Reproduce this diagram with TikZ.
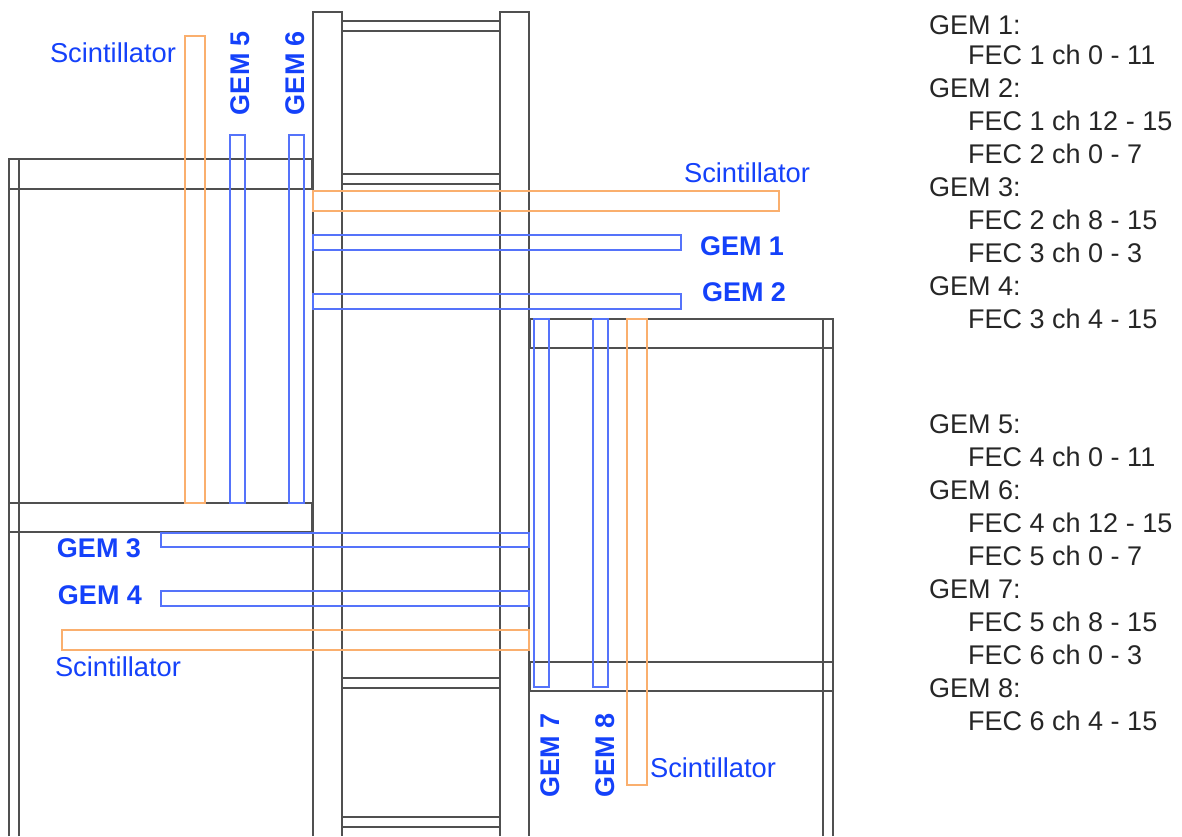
\documentclass[tikz,border=0pt]{standalone}
\usepackage{fontspec}
\setmainfont{Liberation Sans}
\definecolor{gemblue}{RGB}{85, 115, 250}
\definecolor{gemtext}{RGB}{20, 65, 250}
\definecolor{scintorange}{RGB}{250, 175, 110}
\definecolor{framegray}{RGB}{80, 80, 80}
\tikzset{
	frame/.style={draw=framegray, line width=1.2pt},
	gemdet/.style={draw=gemblue, line width=1.1pt},
	scintdet/.style={draw=scintorange, line width=1.2pt},
	gemlabel/.style={text=gemtext, font=\fontsize{27}{30}\selectfont\bfseries, inner sep=0pt},
	scintlabel/.style={text=gemtext, font=\fontsize{27.3}{30}\selectfont, inner sep=0pt},
	chlabel/.style={anchor=base west, text=black!85, font=\fontsize{27}{30}\selectfont, inner sep=0pt}
}

\begin{document}
\begin{tikzpicture}[x=1pt, y=-1pt]
		\useasboundingbox (0, 0) rectangle (1182, 836);
		
		% Linkes Gestell
		\draw[frame] (9, 836) -- (9, 159) (19, 836) -- (19, 159);
		\draw[frame] (9, 159) rectangle (312, 189);
		\draw[frame] (9, 503) rectangle (312, 532);
		
		% Mittleres Gestell
		\draw[frame] (313, 836) -- (313, 12) -- (342, 12) -- (342, 836);
		\draw[frame] (500, 836) -- (500, 12) -- (529, 12) -- (529, 836);
		\draw[frame] (342, 21) rectangle (500, 31);
		\draw[frame] (342, 174) rectangle (500, 184);
		\draw[frame] (342, 678) rectangle (500, 688);
		\draw[frame] (342, 817) rectangle (500, 827);
		
		% Rechtes Gestell
		\draw[frame] (823, 836) -- (823, 319) (833, 836) -- (833, 319);
		\draw[frame] (530, 319) rectangle (833, 348);
		\draw[frame] (530, 662) rectangle (833, 691);
		
		% GEMs
		\draw[gemdet] (313, 235) rectangle (681, 250);
		\draw[gemdet] (313, 294) rectangle (681, 309);
		\draw[gemdet] (161, 533) rectangle (529, 547);
		\draw[gemdet] (161, 591) rectangle (529, 606);
		\draw[gemdet] (230, 135) rectangle (245, 503);
		\draw[gemdet] (289, 135) rectangle (304, 503);
		\draw[gemdet] (534, 319) rectangle (549, 687);
		\draw[gemdet] (593, 319) rectangle (608, 687);
		
		% Szintillatoren
		\draw[scintdet] (185, 36) rectangle (205, 503);
		\draw[scintdet] (313, 191) rectangle (779, 211);
		\draw[scintdet] (62, 630) rectangle (529, 650);
		\draw[scintdet] (627, 319) rectangle (647, 785);
		
		% Beschriftung
		\node[gemlabel] (gem1) at (742, 246) {GEM 1};
		\node[gemlabel] (gem2) at (744, 292) {GEM 2};
		\node[gemlabel] (gem3) at (99, 548) {GEM 3};
		\node[gemlabel] (gem4) at (100, 595) {GEM 4};
		\node[gemlabel, rotate=90] (gem5) at (240, 73) {GEM 5};
		\node[gemlabel, rotate=90] (gem6) at (295, 73) {GEM 6};
		\node[gemlabel, rotate=90] (gem7) at (550, 755) {GEM 7};
		\node[gemlabel, rotate=90] (gem8) at (605, 755) {GEM 8};
		\node[scintlabel] (scint1) at (113, 53) {Scintillator};
		\node[scintlabel] (scint2) at (747, 173) {Scintillator};
		\node[scintlabel] (scint3) at (118, 667) {Scintillator};
		\node[scintlabel] (scint4) at (713, 768) {Scintillator};
		
		% Kanalbelegung
		\node[chlabel] (map1) at (929, 34) {GEM 1:};
		\node[chlabel] (map2) at (968, 64) {FEC 1 ch 0 - 11};
		\node[chlabel] (map3) at (929, 97) {GEM 2:};
		\node[chlabel] (map4) at (968, 130) {FEC 1 ch 12 - 15};
		\node[chlabel] (map5) at (968, 163) {FEC 2 ch 0 - 7};
		\node[chlabel] (map6) at (929, 196) {GEM 3:};
		\node[chlabel] (map7) at (968, 229) {FEC 2 ch 8 - 15};
		\node[chlabel] (map8) at (968, 262) {FEC 3 ch 0 - 3};
		\node[chlabel] (map9) at (929, 295) {GEM 4:};
		\node[chlabel] (map10) at (968, 328) {FEC 3 ch 4 - 15};
		
		\node[chlabel] (map11) at (929, 433) {GEM 5:};
		\node[chlabel] (map12) at (968, 466) {FEC 4 ch 0 - 11};
		\node[chlabel] (map13) at (929, 499) {GEM 6:};
		\node[chlabel] (map14) at (968, 532) {FEC 4 ch 12 - 15};
		\node[chlabel] (map15) at (968, 565) {FEC 5 ch 0 - 7};
		\node[chlabel] (map16) at (929, 598) {GEM 7:};
		\node[chlabel] (map17) at (968, 631) {FEC 5 ch 8 - 15};
		\node[chlabel] (map18) at (968, 664) {FEC 6 ch 0 - 3};
		\node[chlabel] (map19) at (929, 697) {GEM 8:};
		\node[chlabel] (map20) at (968, 730) {FEC 6 ch 4 - 15};
		
	\end{tikzpicture}
\end{document}
